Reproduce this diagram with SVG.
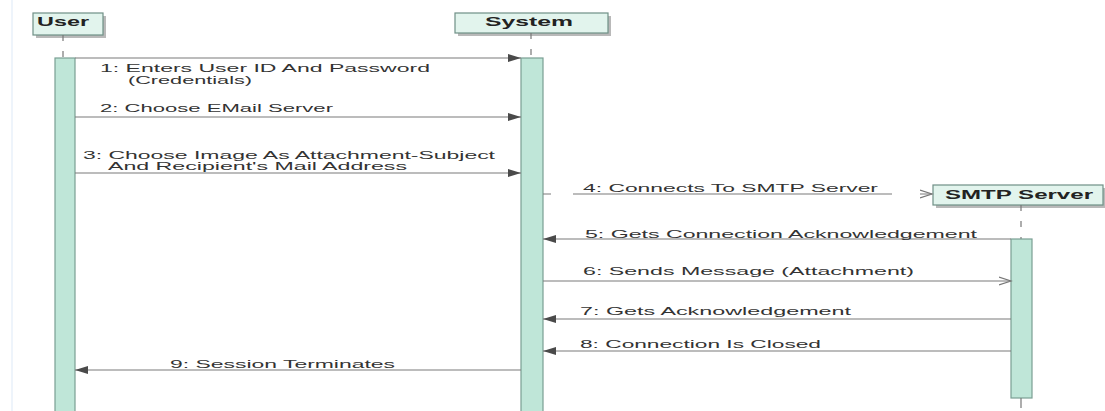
<svg xmlns="http://www.w3.org/2000/svg" width="1105" height="411" viewBox="0 0 1105 411">
<style>
.box{fill:#e2f4ed;stroke:#6f8f86;stroke-width:1.2}
.shadow{fill:#b9b9b9}
.title{font-family:"Liberation Sans",Arial,sans-serif;font-weight:bold;font-size:13px;fill:#222}
.bar{fill:#bfe6d8;stroke:#7a9f93;stroke-width:1.2}
.life{stroke:#777;stroke-width:1.2;stroke-dasharray:6 10}
.msg{stroke:#7a7a7a;stroke-width:1.2;fill:none}
.lbl{font-family:"Liberation Sans",Arial,sans-serif;font-size:11.5px;fill:#333}
</style>
<defs>
<marker id="filled" markerWidth="14" markerHeight="10" refX="13" refY="5" orient="auto" markerUnits="userSpaceOnUse">
<path d="M0,1 L13,5 L0,9 Z" fill="#4a4a4a"/>
</marker>
<marker id="open" markerWidth="14" markerHeight="10" refX="12" refY="5" orient="auto" markerUnits="userSpaceOnUse">
<path d="M0,1 L12,5 L0,9" fill="none" stroke="#777" stroke-width="1.2"/>
</marker>
</defs>
<rect width="1105" height="411" fill="#ffffff"/>
<line x1="12" y1="0" x2="12" y2="411" stroke="#eef4fb" stroke-width="2"/>

<g id="user">
<rect class="shadow" x="36" y="16" width="70" height="22"/>
<rect class="box" x="33" y="13" width="70" height="22"/>
<text class="title" x="37" y="26" textLength="52" lengthAdjust="spacingAndGlyphs">User</text>
<line class="life" x1="63" y1="35" x2="63" y2="58"/>
<rect class="bar" x="55" y="58" width="20" height="360"/>
</g>

<g id="system">
<rect class="shadow" x="458" y="16" width="153" height="20"/>
<rect class="box" x="455" y="13" width="153" height="20"/>
<text class="title" x="485" y="26" textLength="88" lengthAdjust="spacingAndGlyphs">System</text>
<line class="life" x1="531" y1="33" x2="531" y2="58"/>
<rect class="bar" x="521" y="58" width="22" height="360"/>
</g>

<g id="smtp-server">
<rect class="shadow" x="936" y="188" width="170" height="20"/>
<rect class="box" x="933" y="185" width="170" height="20"/>
<text class="title" x="945" y="199" textLength="148" lengthAdjust="spacingAndGlyphs">SMTP Server</text>
<line class="life" x1="1021" y1="205" x2="1021" y2="239"/>
<rect class="bar" x="1011" y="239" width="21" height="159"/>
<line x1="1021" y1="398" x2="1021" y2="408" stroke="#777" stroke-width="1.2"/>
</g>

<g id="connectors">
<line class="msg" x1="75" y1="58" x2="521" y2="58" marker-end="url(#filled)"/>
<line class="msg" x1="75" y1="117" x2="521" y2="117" marker-end="url(#filled)"/>
<line class="msg" x1="75" y1="173" x2="521" y2="173" marker-end="url(#filled)"/>
<line class="msg" x1="543" y1="194" x2="932" y2="194" stroke-dasharray="8 22 319 28 20" marker-end="url(#open)"/>
<line class="msg" x1="1011" y1="239" x2="543" y2="239" marker-end="url(#filled)"/>
<line class="msg" x1="543" y1="281" x2="1011" y2="281" marker-end="url(#open)"/>
<line class="msg" x1="1011" y1="319" x2="543" y2="319" marker-end="url(#filled)"/>
<line class="msg" x1="1011" y1="351" x2="543" y2="351" marker-end="url(#filled)"/>
<line class="msg" x1="521" y1="370" x2="75" y2="370" marker-end="url(#filled)"/>
</g>

<g id="labels">
<text class="lbl" x="100" y="72" textLength="330" lengthAdjust="spacingAndGlyphs">1: Enters User ID And Password</text>
<text class="lbl" x="128" y="84" textLength="124" lengthAdjust="spacingAndGlyphs">(Credentials)</text>
<text class="lbl" x="100" y="112" textLength="233" lengthAdjust="spacingAndGlyphs">2: Choose EMail Server</text>
<text class="lbl" x="83" y="159" textLength="412" lengthAdjust="spacingAndGlyphs">3: Choose Image As Attachment-Subject</text>
<text class="lbl" x="108" y="170" textLength="299" lengthAdjust="spacingAndGlyphs">And Recipient's Mail Address</text>
<text class="lbl" x="583" y="192" textLength="295" lengthAdjust="spacingAndGlyphs">4: Connects To SMTP Server</text>
<text class="lbl" x="585" y="238" textLength="392" lengthAdjust="spacingAndGlyphs">5: Gets Connection Acknowledgement</text>
<text class="lbl" x="583" y="275" textLength="331" lengthAdjust="spacingAndGlyphs">6: Sends Message (Attachment)</text>
<text class="lbl" x="580" y="315" textLength="271" lengthAdjust="spacingAndGlyphs">7: Gets Acknowledgement</text>
<text class="lbl" x="580" y="348" textLength="241" lengthAdjust="spacingAndGlyphs">8: Connection Is Closed</text>
<text class="lbl" x="170" y="368" textLength="225" lengthAdjust="spacingAndGlyphs">9: Session Terminates</text>
</g>
</svg>
